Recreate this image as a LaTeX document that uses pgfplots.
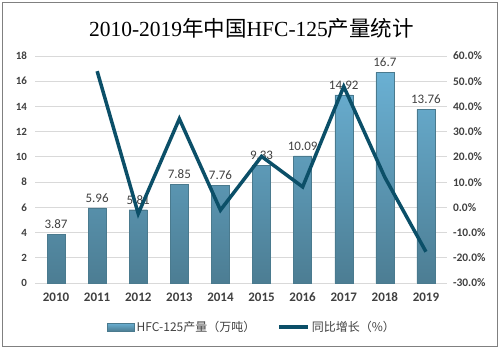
\documentclass[border=0pt]{standalone}
\usepackage{fontspec}
\setmainfont{Carlito}
\newfontfamily\cjk{Noto Sans CJK SC}
\newfontfamily\tserif{Liberation Serif}
\usepackage{pgfplots}
\pgfplotsset{compat=1.18}
\definecolor{barTop}{HTML}{6AB0D3}
\definecolor{barBot}{HTML}{4C7D93}
\definecolor{barEdge}{HTML}{4A7A8E}
\definecolor{lineC}{HTML}{0B4F68}
\definecolor{txt}{HTML}{404040}
\definecolor{gridc}{HTML}{D9D9D9}
\begin{document}
\begin{tikzpicture}[x=1pt,y=1pt]
\useasboundingbox (-35.5,-68) rectangle (467.5,283);
\draw[color=black!50, line width=1pt] (-32.5,-63) rectangle (461.5,280);
\node[font=\tserif\fontsize{21.5}{24}\selectfont] at (216,255) {2010-2019{\cjk 年中国}HFC-125{\cjk 产量统计}};
\begin{axis}[at={(0,0)}, anchor=south west, scale only axis, width=411pt, height=227pt,
  xmin=-0.5, xmax=9.5, ymin=0, ymax=18, ytick={0,2,...,18},
  xtick={0,...,9}, xticklabels={2010,2011,2012,2013,2014,2015,2016,2017,2018,2019},
  axis line style={draw=none}, tick style={draw=none},
  ymajorgrids, grid style={gridc, line width=0.8pt},
  /pgf/number format/assume math mode=true,
  x tick label style={font=\bfseries\fontsize{13}{14}\selectfont, text=txt, yshift=-6pt},
  y tick label style={font=\bfseries\fontsize{11}{12}\selectfont, text=txt, xshift=-5pt},
  bar width=18pt,
  nodes near coords,
  nodes near coords style={font=\fontsize{13}{14}\selectfont, text=txt, yshift=2pt},
]
\addplot[ybar, draw=barEdge, top color=barTop, bottom color=barBot] coordinates {
(0,3.87) (1,5.96) (2,5.81) (3,7.85) (4,7.76) (5,9.33) (6,10.09) (7,14.92) (8,16.7) (9,13.76)};
\end{axis}
\begin{axis}[at={(0,0)}, anchor=south west, scale only axis, width=411pt, height=227pt,
  xmin=-0.5, xmax=9.5, ymin=-30, ymax=60, ytick={-30,-20,...,60},
  axis y line*=right, hide x axis,
  axis line style={draw=none}, tick style={draw=none},
  yticklabel={\pgfmathprintnumber[fixed,fixed zerofill,precision=1]{\tick}\%},
  /pgf/number format/assume math mode=true,
  y tick label style={font=\bfseries\fontsize{11.5}{12}\selectfont, text=txt, xshift=3pt},
  legend columns=2,
  legend style={at={(0.527,-0.194)}, anchor=center, draw=none, fill=none,
    font=\cjk\fontsize{12}{13}\selectfont, text=txt,
    /tikz/every even column/.append style={column sep=20pt}},
]
\addlegendimage{legend image code/.code={\draw[draw=barEdge, top color=barTop, bottom color=barBot] (0pt,-4pt) rectangle (27pt,4pt);}}
\addlegendentry{HFC-125产量（万吨）}
\addplot[lineC, line width=3.5pt, mark=none,
  legend image code/.code={\draw[lineC, line width=3.5pt] (0pt,0pt) -- (29pt,0pt);}] coordinates {
(1,54.0) (2,-2.5) (3,35.1) (4,-1.1) (5,20.2) (6,8.1) (7,47.9) (8,11.9) (9,-17.6)};
\addlegendentry{同比增长（\%）}
\end{axis}
\end{tikzpicture}
\end{document}
